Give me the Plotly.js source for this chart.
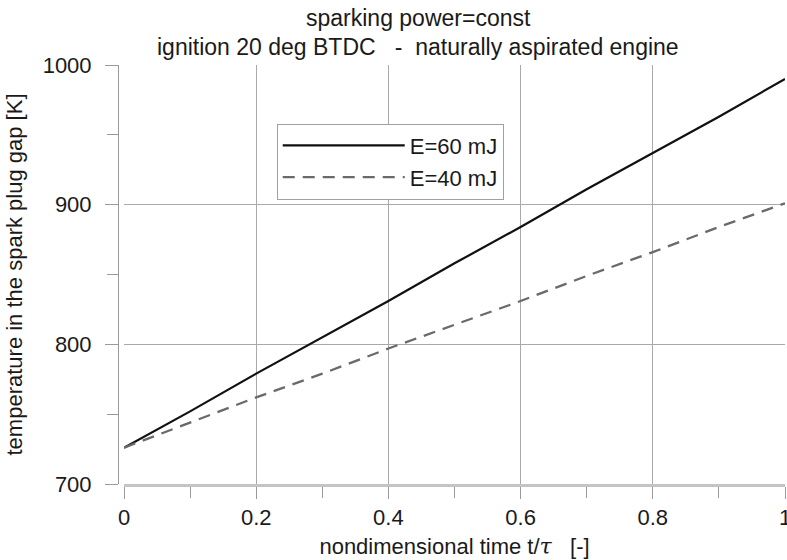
<!DOCTYPE html>
<html>
<head>
<meta charset="utf-8">
<script src="https://cdn.plot.ly/plotly-3.0.1.min.js"></script>
<style>html,body{margin:0;padding:0;background:#fff;}#chart{width:787px;height:560px;}</style>
</head>
<body>
<div id="chart"></div>
<script>
// Data
const tValues = [0, 0.1, 0.2, 0.3, 0.4, 0.5, 0.6, 0.7, 0.8, 0.9, 1.0];
const tempE60 = [726, 752, 779, 805, 831, 858, 884, 911, 937, 963, 990];
const tempE40 = [726, 744, 762, 779, 797, 814, 831, 849, 866, 884, 901];
const seriesNames = ['E=60 mJ', 'E=40 mJ'];
const titleLines = ['sparking power=const', 'ignition 20 deg BTDC   -  naturally aspirated engine'];
const xTitle = 'nondimensional time t/<span style="font-family:\'DejaVu Serif\', serif"><i>τ</i></span>   [-]';
const yTitle = 'temperature in the spark plug gap [K]';

const FONT = 'Liberation Sans, Arial, sans-serif';
const TXT = '#1a1a1a';
const gridC = '#a9a9a9';

const traces = [
  {x: tValues, y: tempE60, name: seriesNames[0], type: 'scatter', mode: 'lines',
   line: {color: '#111111', width: 2.2}},
  {x: tValues, y: tempE40, name: seriesNames[1], type: 'scatter', mode: 'lines',
   line: {color: '#6a6a6a', width: 2.3, dash: '12px,8px'}}
];

const layout = {
  width: 787, height: 560,
  margin: {l: 118, r: 2, t: 65, b: 76},
  paper_bgcolor: '#ffffff', plot_bgcolor: '#ffffff',
  font: {family: FONT, size: 22, color: TXT},
  showlegend: true,
  legend: {x: 0.238, y: 0.86, xanchor: 'left', yanchor: 'top',
           bgcolor: '#ffffff', bordercolor: '#a0a0a0', borderwidth: 1,
           itemwidth: 122, font: {family: FONT, size: 22, color: TXT}},
  xaxis: {
    range: [0, 1], domain: [0.009, 1], dtick: 0.2, tick0: 0,
    showgrid: true, gridcolor: gridC, gridwidth: 1, zeroline: false,
    showline: true, linecolor: '#c4c4c4', linewidth: 3,
    ticks: 'outside', ticklen: 12, tickcolor: '#9a9a9a', tickwidth: 1,
    minor: {dtick: 0.1, ticks: 'outside', ticklen: 11, tickcolor: '#9a9a9a', showgrid: false},
    ticklabeloverflow: 'allow',
    tickfont: {family: FONT, size: 22, color: TXT},
    title: {text: xTitle, font: {family: FONT, size: 22, color: TXT}, standoff: 10}
  },
  yaxis: {
    range: [700, 1000], dtick: 100, tick0: 700,
    anchor: 'free', position: 0,
    showgrid: true, gridcolor: gridC, gridwidth: 1, zeroline: false,
    showline: true, linecolor: '#9a9a9a', linewidth: 1,
    ticks: 'outside', ticklen: 13, tickcolor: '#9a9a9a',
    ticklabelstandoff: 9,
    minor: {dtick: 50, ticks: 'outside', ticklen: 11, tickcolor: '#9a9a9a', showgrid: false},
    tickfont: {family: FONT, size: 22, color: TXT},
    title: {text: yTitle, font: {family: FONT, size: 22, color: TXT}, standoff: 12}
  },
  annotations: [
    {text: titleLines[0], xref: 'paper', yref: 'paper', x: 0.45, y: 1.112,
     xanchor: 'center', yanchor: 'middle', showarrow: false,
     font: {family: FONT, size: 23, color: TXT}},
    {text: titleLines[1], xref: 'paper', yref: 'paper', x: 0.45, y: 1.043,
     xanchor: 'center', yanchor: 'middle', showarrow: false,
     font: {family: FONT, size: 23, color: TXT}}
  ]
};

Plotly.newPlot('chart', traces, layout, {displayModeBar: false, staticPlot: true});
</script>
</body>
</html>
